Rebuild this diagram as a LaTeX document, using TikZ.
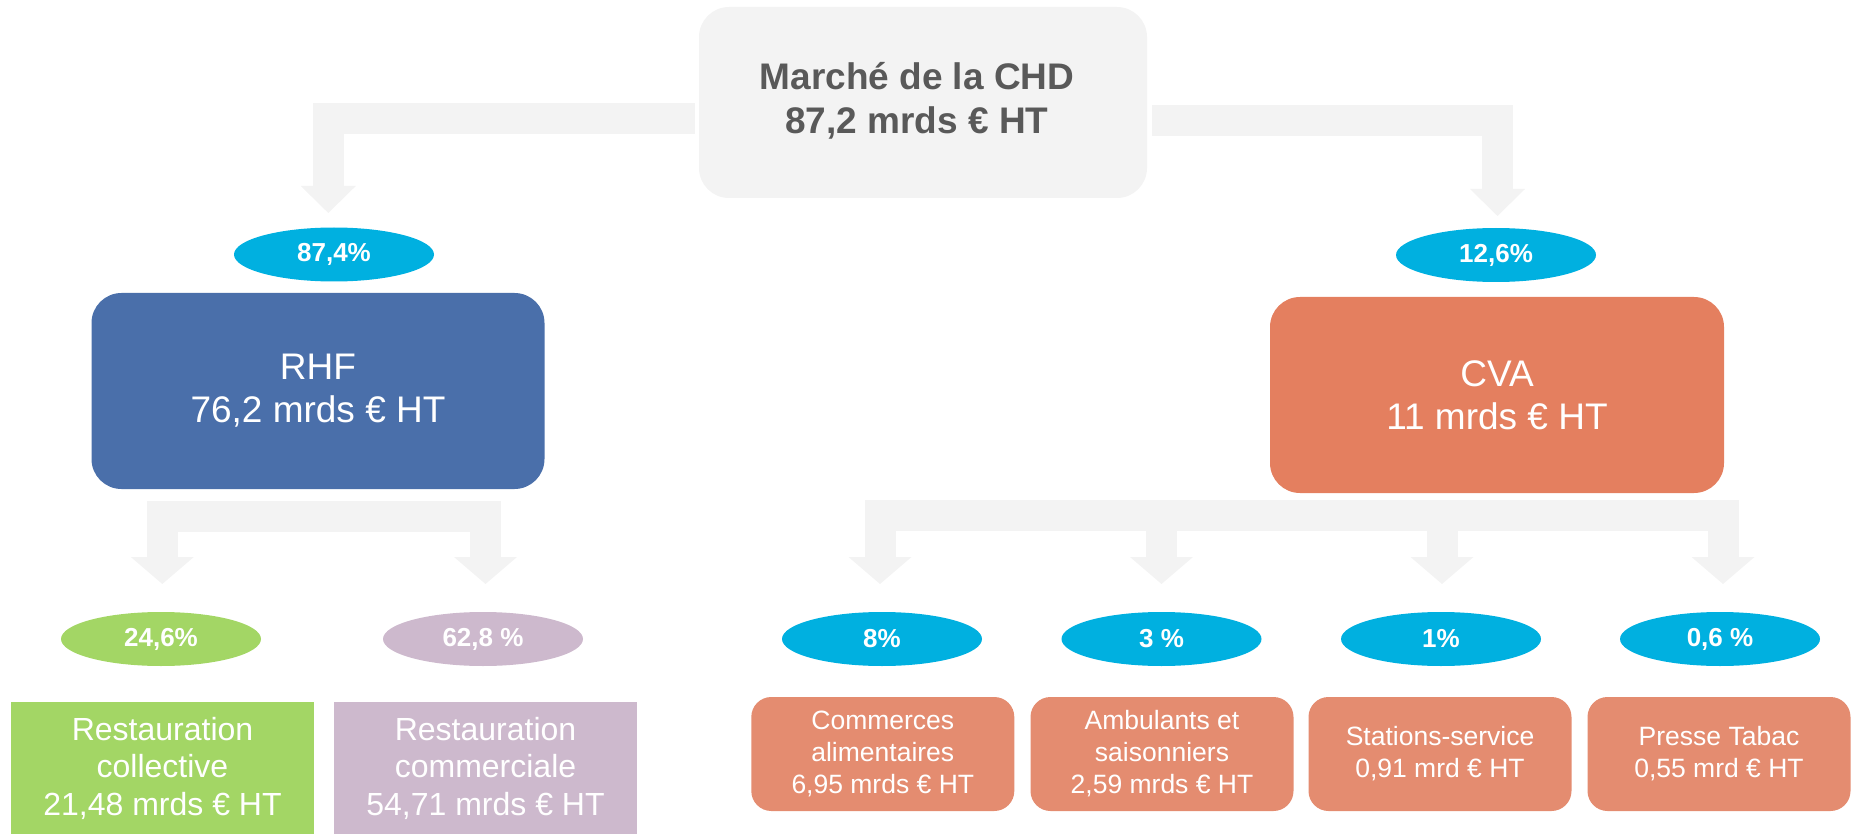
\documentclass[tikz,border=0pt]{standalone}
\usepackage{fontspec}
\setmainfont{Liberation Sans}
\usetikzlibrary{shapes.geometric,arrows.meta}
\definecolor{flowgray}{HTML}{F3F3F3}
\definecolor{topgray}{HTML}{F3F3F3}
\definecolor{txtgray}{HTML}{595959}
\definecolor{rhfblue}{HTML}{4A6FAA}
\definecolor{cvaor}{HTML}{E47F5F}
\definecolor{subor}{HTML}{E48C70}
\definecolor{pctcyan}{HTML}{00B0E0}
\definecolor{grn}{HTML}{A3D665}
\definecolor{lil}{HTML}{CDB9CD}
\begin{document}
\begin{tikzpicture}[x=1pt,y=-1pt,
  bigbox/.style={rounded corners=30pt, inner sep=0pt, align=center, text=white,
    font=\fontsize{37}{43}\selectfont, minimum width=453pt, minimum height=196pt},
  topbox/.style={rounded corners=30pt, inner sep=0pt, fill=topgray, text=txtgray,
    font=\bfseries\fontsize{37}{44}\selectfont, minimum width=448pt, minimum height=191pt},
  midbox/.style={inner sep=0pt, align=center, text=white,
    font=\fontsize{32}{37.5}\selectfont, minimum width=303pt, minimum height=133pt},
  smallbox/.style={rounded corners=20pt, inner sep=0pt, align=center, text=white, fill=subor,
    font=\fontsize{26.5}{32}\selectfont, minimum width=263pt, minimum height=114pt},
  pct/.style={ellipse, inner sep=0pt, text=white, minimum width=200pt, minimum height=54pt,
    font=\bfseries\fontsize{26}{30}\selectfont},
  flowtop/.style={draw=flowgray, line width=31pt, line join=miter,
    -{Triangle[width=55pt,length=27pt,line width=0pt]}},
  flowbot/.style={draw=flowgray, line width=31pt, line join=miter,
    -{Triangle[width=63pt,length=27pt,line width=0pt]}}
]
\useasboundingbox (0,0) rectangle (1852,834);

% nodes
\node[topbox] (top) at (923,102.5)
  {\hspace*{-12pt}\raisebox{-5pt}{\begin{tabular}{@{}c@{}}Marché de la CHD\\87,2 mrds € HT\end{tabular}}};
\node[pct, fill=pctcyan] (p874) at (334,254.5) {87,4\%};
\node[pct, fill=pctcyan] (p126) at (1496,255) {12,6\%};
\node[bigbox, fill=rhfblue] (rhf) at (318,391) {RHF\\76,2 mrds € HT};
\node[bigbox, fill=cvaor, minimum width=454pt] (cva) at (1497,395) {CVA\\11 mrds € HT};

\node[pct, fill=grn] (p246) at (161,639) {24,6\%};
\node[pct, fill=lil] (p628) at (483,639) {62,8 \%};
\node[pct, fill=pctcyan] (p8) at (882,639) {8\%};
\node[pct, fill=pctcyan] (p3) at (1161.5,639) {3 \%};
\node[pct, fill=pctcyan] (p1) at (1441,639) {1\%};
\node[pct, fill=pctcyan] (p06) at (1720,639) {0,6 \%};

\node[midbox, fill=grn] (rcol) at (162.5,768) {Restauration\\collective\\21,48 mrds € HT};
\node[midbox, fill=lil] (rcom) at (485.5,768) {Restauration\\commerciale\\54,71 mrds € HT};

\node[smallbox] (com) at (882.8,754) {Commerces\\alimentaires\\6,95 mrds € HT};
\node[smallbox] (amb) at (1162,754) {Ambulants et\\saisonniers\\2,59 mrds € HT};
\node[smallbox] (sta) at (1440,754) {Stations-service\\0,91 mrd € HT};
\node[smallbox] (pre) at (1719,754) {Presse Tabac\\0,55 mrd € HT};

% connector ends
\coordinate (l0) at ([shift={(-4,16)}]top.west);
\coordinate (r0) at ([shift={(5,18)}]top.east);
\coordinate (t874) at (328.3,213);
\coordinate (t126) at (1497.5,216);

\coordinate (rl) at (162.3,516);
\coordinate (rr) at (485.5,516);
\coordinate (t246) at (162.3,584);
\coordinate (t628) at (485.5,584);

\coordinate (cl) at (880,515.5);
\coordinate (cr) at (1723,515.5);
\coordinate (cm1) at (1161.5,515.5);
\coordinate (cm2) at (1442,515.5);
\coordinate (t8) at (880,584);
\coordinate (t3) at (1161.5,584);
\coordinate (t1) at (1442,584);
\coordinate (t06) at (1723,584);

% connectors
\draw[flowtop] (l0) -| (t874);
\draw[flowtop] (r0) -| (t126);

\draw[flowbot] (rr) -| (t246);
\draw[flowbot] (rl) -| (t628);

\draw[flowbot] (cr) -| (t8);
\draw[flowbot] (cl) -| (t06);
\draw[flowbot] (cm1) -- (t3);
\draw[flowbot] (cm2) -- (t1);
\end{tikzpicture}
\end{document}
